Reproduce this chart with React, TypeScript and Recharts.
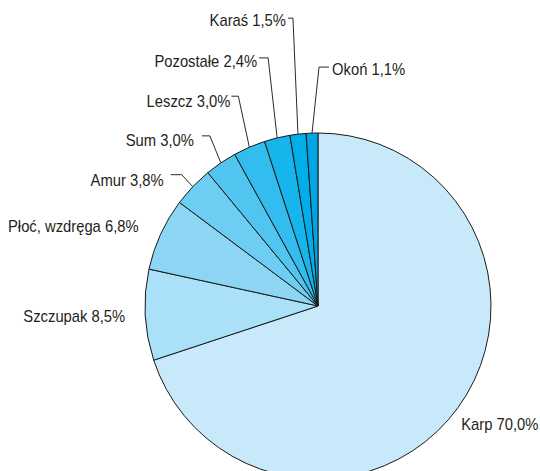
import React from "react";
import { PieChart, Pie, Cell } from "recharts";

const names = [
  "Karp",
  "Szczupak",
  "Płoć, wzdręga",
  "Amur",
  "Sum",
  "Leszcz",
  "Pozostałe",
  "Karaś",
  "Okoń",
];
const shares = [70.0, 8.5, 6.8, 3.8, 3.0, 3.0, 2.4, 1.5, 1.1];
const colors = [
  "#c7e9f9",
  "#aae0f8",
  "#8cd6f4",
  "#6ecdf2",
  "#50c5f0",
  "#32bdee",
  "#16b5ec",
  "#00aeea",
  "#00a5e5",
];

// label placement relative to the arc point of each slice
// e: elbow offset, h: horizontal run, g: gap to text, b: baseline below elbow
type Layout = { e?: [number, number]; h?: number; g: number; b: number; t?: [number, number]; anchor: "start" | "end" };
const layout: Layout[] = [
  { t: [3, 23], g: 0, b: 0, anchor: "start" },
  { t: [-20, 7], g: 0, b: 0, anchor: "end" },
  { t: [-22, -2], g: 0, b: 0, anchor: "end" },
  { e: [-11, -12], h: -11, g: -7, b: 11, anchor: "end" },
  { e: [-11, -27], h: -8, g: -8, b: 10, anchor: "end" },
  { e: [-11, -51], h: -7, g: -1, b: 11, anchor: "end" },
  { e: [-9, -80], h: -9, g: -2, b: 9, anchor: "end" },
  { e: [-5, -116], h: -5, g: -2, b: 8, anchor: "end" },
  { e: [7, -66], h: 10, g: 3, b: 8, anchor: "start" },
];

const data = names.map((name, i) => ({ name, value: shares[i] }));

const RADIAN = Math.PI / 180;
const fmt = (v: number) => v.toFixed(1).replace(".", ",") + "%";

const Label = ({ x, y, anchor, text }: { x: number; y: number; anchor: string; text: string }) => (
  <text
    transform={`translate(${x},${y}) scale(0.87,1)`}
    textAnchor={anchor}
    style={{ fontFamily: "'Liberation Sans', Arial, sans-serif", fontSize: 17, fill: "#231f20" }}
  >
    {text}
  </text>
);

const renderLabel = (props: any) => {
  const { cx, cy, midAngle, outerRadius, index } = props;
  const ax = cx + outerRadius * Math.cos(-midAngle * RADIAN);
  const ay = cy + outerRadius * Math.sin(-midAngle * RADIAN);
  const l = layout[index];
  const text = `${names[index]} ${fmt(shares[index])}`;
  if (!l.e) {
    return <Label key={index} x={ax + l.t![0]} y={ay + l.t![1]} anchor={l.anchor} text={text} />;
  }
  const ex = ax + l.e[0];
  const ey = ay + l.e[1];
  const hx = ex + (l.h ?? 0);
  return (
    <g key={index}>
      <polyline
        points={`${ax},${ay} ${ex},${ey} ${hx},${ey}`}
        fill="none"
        stroke="#2a2a2a"
        strokeWidth={1}
      />
      <Label x={hx + l.g} y={ey + l.b} anchor={l.anchor} text={text} />
    </g>
  );
};

export default function App() {
  return (
    <div style={{ position: "absolute", left: 0, top: 0, width: 540, height: 471, background: "#fff" }}>
      <PieChart width={540} height={471} margin={{ top: 0, right: 0, bottom: 0, left: 0 }}>
        <Pie
          data={data}
          dataKey="value"
          cx={318}
          cy={306}
          outerRadius={173}
          startAngle={90}
          endAngle={-270}
          stroke="#1a1a1a"
          strokeWidth={1}
          label={renderLabel}
          labelLine={false}
          isAnimationActive={false}
        >
          {data.map((d, i) => (
            <Cell key={d.name} fill={colors[i]} />
          ))}
        </Pie>
      </PieChart>
    </div>
  );
}
